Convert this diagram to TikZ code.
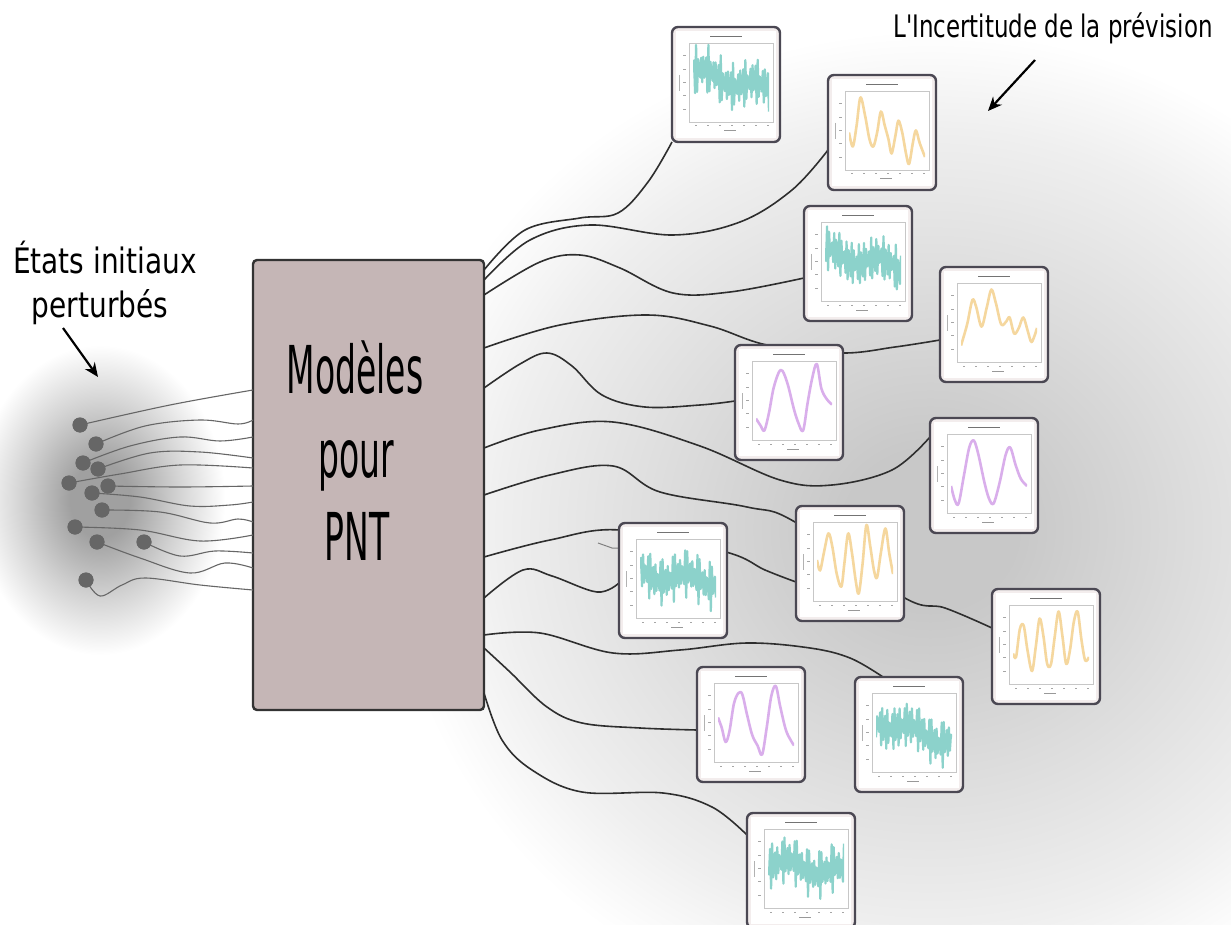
\documentclass[tikz,border=0pt]{standalone}
\usepackage{fontspec}
\setmainfont{DejaVu Sans}
\newfontfamily\labfont[FakeStretch=0.8]{DejaVu Sans}
\newfontfamily\labfontb[FakeStretch=0.74]{DejaVu Sans}
\newfontfamily\boxfont[FakeStretch=0.5]{DejaVu Sans}
\usetikzlibrary{calc,arrows.meta}
\definecolor{boxfill}{HTML}{C5B6B6}
\definecolor{frm}{HTML}{4B4853}
\definecolor{band}{HTML}{F3EDED}
\definecolor{serT}{HTML}{8CD2CB}
\definecolor{serY}{HTML}{F5D79E}
\definecolor{serP}{HTML}{D9AEEB}
\definecolor{haloA}{HTML}{C8C8C8}
\definecolor{haloB}{HTML}{DCDCDC}
\definecolor{haloC}{HTML}{EFEFEF}
\definecolor{dotA}{HTML}{A0A0A0}
\definecolor{dotB}{HTML}{D4D4D4}
\definecolor{dotfill}{HTML}{666666}
\pgfdeclareradialshading{bighalo}{\pgfpoint{0bp}{0bp}}{color(0bp)=(haloA); color(4bp)=(haloA); color(12bp)=(haloB); color(20bp)=(haloC); color(25bp)=(white); color(50bp)=(white)}
\pgfdeclareradialshading{dothalo}{\pgfpoint{0bp}{0bp}}{color(0bp)=(dotA); color(6bp)=(dotA); color(16bp)=(dotB); color(25bp)=(white); color(50bp)=(white)}

\newcommand{\serteal}[2]{\draw[serT, line width=1.1pt, line join=round] plot[domain=0:1, samples=75, variable=\t] (\t,{0.5+0.08*sin(\t*540+#1)+#2*(0.5-\t)+0.37*sin(\t*11100+3*#1)*(0.75+0.25*sin(\t*2300+#1))});}
\newcommand{\seryel}[1]{\draw[serY, line width=1.3pt, line join=round] plot[smooth, tension=0.55] coordinates {#1};}
\newcommand{\serpur}[1]{\draw[serP, line width=1.3pt, line join=round] plot[smooth, tension=0.55] coordinates {#1};}

\newcommand{\chart}[4]{%
 \node[chartbox] (#1) at ({#2+54},{#3+57.5}) {};
 \begin{scope}[shift={(#1.north west)}]
  \fill[white] (4,4) rectangle (104,111);
  \draw[black!55, line width=0.45pt] (38,9) -- (70,9);
  \draw[black!22, line width=0.3pt] (17,16) rectangle (101,95);
  \foreach \v in {0.12,0.31,0.5,0.69,0.88} \draw[black!35, line width=0.5pt] (11,{91-71*\v}) -- (14,{91-71*\v});
  \foreach \u in {0.05,0.2,0.35,0.5,0.65,0.8,0.95} \draw[black!35, line width=0.5pt] ({19+80*\u},99) -- ({21+80*\u},99);
  \draw[black!40, line width=0.5pt] (52,104) -- (64,104);
  \draw[black!30, line width=0.4pt] (7,48) -- (7,64);
  \begin{scope}[shift={(21,89)}, xscale=76, yscale=-70]
   \clip (0,-0.05) rectangle (1,1.05);
   #4
  \end{scope}
 \end{scope}}

\begin{document}
\begin{tikzpicture}[x=0.5pt,y=-0.5pt,
  chartbox/.style={draw=frm, line width=1.2pt, fill=band, rounded corners=3pt, minimum width=54pt, minimum height=57.5pt, inner sep=0pt, outer sep=0pt},
  dot/.style={circle, fill=dotfill, minimum size=7.5pt, inner sep=0pt},
  lwire/.style={draw=black!60, line width=0.55pt},
  rwire/.style={draw=black!82, line width=0.8pt},
  arr/.style={draw=black, line width=1.1pt, -{Stealth[length=7pt,width=6pt]}},
  lab/.style={font=\labfont\fontsize{17.5}{20}\selectfont, inner sep=0pt},
  boxtxt/.style={font=\boxfont\fontsize{33}{33}\selectfont, inner sep=0pt, anchor=base}
]
\useasboundingbox (0,0) rectangle (1231,925);
\clip (0,0) rectangle (1231,925);
\fill[white] (0,0) rectangle (1231,925);
\shade[shading=bighalo] (930,530) ellipse [x radius=540, y radius=500];
\shade[shading=dothalo] (100,500) ellipse [x radius=125, y radius=155];

% labels
\node[lab, anchor=base] (lt1) at (105,274) {États initiaux};
\node[lab, anchor=base] (lt2) at (100,317) {perturbés};
\node[anchor=base, inner sep=0pt, font=\labfontb\fontsize{15.5}{18}\selectfont] (rt) at (1053,38) {L'Incertitude de la prévision};
\coordinate (la0) at (63,328);
\coordinate (la1) at (98,377);
\coordinate (ra0) at (1035,60);
\coordinate (ra1) at (988,111);
\draw[arr] (la0) -- (la1);
\draw[arr] (ra0) -- (ra1);

% main box
\node[draw=black!80, line width=1.2pt, fill=boxfill, rounded corners=2pt, minimum width=115.5pt, minimum height=225pt, inner sep=0pt, outer sep=0pt] (pnt) at (368.5,485) {};
\node[boxtxt] (m1) at (355,393) {Modèles};
\node[boxtxt] (m2) at (356,477) {pour};
\node[boxtxt] (m3) at (357,560) {PNT};

% dots
\node[dot] (d1) at (80,425) {};
\node[dot] (d2) at (96,444) {};
\node[dot] (d3) at (83,463) {};
\node[dot] (d4) at (98,469) {};
\node[dot] (d5) at (69,483) {};
\node[dot] (d6) at (108,486) {};
\node[dot] (d7) at (92,493) {};
\node[dot] (d8) at (102,510) {};
\node[dot] (d9) at (75,527) {};
\node[dot] (d10) at (144,542) {};
\node[dot] (d11) at (97,542) {};
\node[dot] (d12) at (86,580) {};

% left wires
\draw[lwire] plot[smooth,tension=0.6] coordinates {(d1) (170,405) ($(pnt.north west)+(0,130)$)};
\draw[lwire] plot[smooth,tension=0.6] coordinates {(d2) (145,426) (200,420) (238,424) ($(pnt.north west)+(0,160)$)};
\draw[lwire] plot[smooth,tension=0.6] coordinates {(d3) (130,446) (180,437) (220,441) ($(pnt.north west)+(0,177)$)};
\draw[lwire] plot[smooth,tension=0.6] coordinates {(d4) (150,453) (200,452) ($(pnt.north west)+(0,198)$)};
\draw[lwire] plot[smooth,tension=0.6] coordinates {(d5) (120,474) (180,465) ($(pnt.north west)+(0,208)$)};
\draw[lwire] plot[smooth,tension=0.6] coordinates {(d6) (180,487) ($(pnt.north west)+(0,226)$)};
\draw[lwire] plot[smooth,tension=0.6] coordinates {(d7) (140,497) (190,506) (230,505) ($(pnt.north west)+(0,242)$)};
\draw[lwire] plot[smooth,tension=0.6] coordinates {(d8) (160,512) (210,523) (238,519) ($(pnt.north west)+(0,262)$)};
\draw[lwire] plot[smooth,tension=0.6] coordinates {(d9) (140,530) (200,541) ($(pnt.north west)+(0,275)$)};
\draw[lwire] plot[smooth,tension=0.6] coordinates {(d10) (180,556) (215,551) ($(pnt.north west)+(0,293)$)};
\draw[lwire] plot[smooth,tension=0.6] coordinates {(d11) (140,558) (190,573) (225,563) ($(pnt.north west)+(0,308)$)};
\draw[lwire] plot[smooth,tension=0.6] coordinates {(d12) (100,596) (122,585) (145,578) (200,585) ($(pnt.north west)+(0,330)$)};
\foreach \x/\y in {80/425,96/444,83/463,98/469,69/483,108/486,92/493,102/510,75/527,144/542,97/542,86/580}
  \fill[dotfill] (\x,\y) circle [radius=7.5];

% wire end points on the charts
\coordinate (e1) at (672,142);
\coordinate (e2) at (828,150);
\coordinate (e3) at (804,278);
\coordinate (e4) at (940,340);
\coordinate (e5) at (735,401);
\coordinate (e6) at (930,437);
\coordinate (e7) at (796,582);
\coordinate (e8) at (619,583);
\coordinate (e9) at (992,628);
\coordinate (e10) at (697,730);
\coordinate (e11) at (883,677);
\coordinate (e12) at (747,835);

% right wires
\draw[rwire] plot[smooth,tension=0.6] coordinates {($(pnt.north east)+(0,10)$) (525,230) (580,218) (618,213) (648,182) (e1)};
\draw[rwire] plot[smooth,tension=0.6] coordinates {($(pnt.north east)+(0,20)$) (530,240) (590,225) (673,235) (740,222) (792,190) (e2)};
\draw[rwire] plot[smooth,tension=0.6] coordinates {($(pnt.north east)+(0,35)$) (540,262) (580,255) (620,268) (673,293) (730,292) (e3)};
\draw[rwire] plot[smooth,tension=0.6] coordinates {($(pnt.north east)+(0,88)$) (560,325) (647,315) (710,326) (767,345) (841,353) (895,347) (e4)};
\draw[rwire] plot[smooth,tension=0.6] coordinates {($(pnt.north east)+(0,128)$) (520,364) (547,353) (572,366) (602,395) (645,407) (700,405) (e5)};
\draw[rwire] plot[smooth,tension=0.6] coordinates {($(pnt.north east)+(0,188)$) (540,430) (613,422) (700,446) (780,480) (832,485) (892,470) (e6)};
\draw[rwire] plot[smooth,tension=0.6] coordinates {($(pnt.north east)+(0,235)$) (550,475) (613,466) (660,492) (747,507) (795,522) (903,597) (945,608) (e9)};
\draw[rwire] plot[smooth,tension=0.6] coordinates {($(pnt.north east)+(0,297)$) (550,540) (620,530) (726,552) (765,570) (e7)};
\draw[rwire] plot[smooth,tension=0.6] coordinates {($(pnt.north east)+(0,338)$) (523,570) (552,576) (597,592) (e8)};
\draw[rwire] plot[smooth,tension=0.6] coordinates {($(pnt.north east)+(0,375)$) (540,633) (613,653) (680,650) (747,643) (810,648) (850,658) (e11)};
\draw[rwire] plot[smooth,tension=0.6] coordinates {($(pnt.north east)+(0,388)$) (510,672) (547,707) (582,723) (640,728) (e10)};
\draw[rwire] plot[smooth,tension=0.6] coordinates {($(pnt.north east)+(0,433)$) (502,740) (532,770) (582,792) (663,793) (712,807) (e12)};
\coordinate (s0) at (598,543);
\coordinate (s1) at (627,548);
\draw[draw=black!50, line width=0.5pt] (s0) -- (612,548) -- (s1);

% charts
\chart{c1}{672}{27}{\serteal{0}{0.25}}
\chart{c2}{828}{75}{\seryel{(0,0.45)(0.05,0.25)(0.1,0.55)(0.15,0.95)(0.21,0.7)(0.27,0.35)(0.32,0.25)(0.37,0.45)(0.42,0.75)(0.47,0.55)(0.52,0.35)(0.56,0.15)(0.61,0.4)(0.65,0.62)(0.7,0.45)(0.75,0.15)(0.79,0.0)(0.84,0.3)(0.88,0.48)(0.93,0.3)(1,0.1)}}
\chart{c3}{804}{206}{\serteal{60}{0.2}}
\chart{c4}{940}{267}{\seryel{(0,0.15)(0.08,0.45)(0.15,0.8)(0.2,0.7)(0.27,0.42)(0.34,0.7)(0.4,0.95)(0.46,0.75)(0.53,0.45)(0.6,0.5)(0.64,0.55)(0.7,0.32)(0.76,0.4)(0.82,0.55)(0.88,0.35)(0.93,0.2)(1,0.4)}}
\chart{c5}{735}{345}{\serpur{(0,0.22)(0.06,0.12)(0.11,0.05)(0.17,0.3)(0.23,0.65)(0.3,0.88)(0.35,0.9)(0.42,0.7)(0.5,0.35)(0.56,0.15)(0.62,0.05)(0.68,0.45)(0.74,0.8)(0.8,1.0)(0.86,0.65)(0.93,0.5)(1,0.42)}}
\chart{c6}{930}{418}{\serpur{(0,0.3)(0.05,0.1)(0.1,0.05)(0.17,0.45)(0.24,0.85)(0.3,0.95)(0.36,0.75)(0.44,0.35)(0.5,0.12)(0.56,0.05)(0.64,0.35)(0.72,0.75)(0.78,0.85)(0.85,0.6)(0.92,0.4)(1,0.3)}}
\chart{c7}{796}{506}{\seryel{(0,0.5)(0.04,0.35)(0.09,0.6)(0.15,0.88)(0.2,0.7)(0.26,0.3)(0.32,0.12)(0.36,0.45)(0.41,0.88)(0.46,0.6)(0.51,0.2)(0.55,0.02)(0.6,0.45)(0.65,1.0)(0.7,0.7)(0.75,0.35)(0.79,0.25)(0.84,0.6)(0.9,0.95)(0.95,0.6)(1,0.3)}}
\chart{c8}{619}{523}{\serteal{120}{0.1}}
\chart{c9}{992}{589}{\seryel{(0,0.35)(0.04,0.3)(0.09,0.7)(0.14,0.75)(0.19,0.4)(0.25,0.1)(0.3,0.45)(0.35,0.85)(0.4,0.6)(0.45,0.2)(0.5,0.2)(0.55,0.6)(0.6,0.95)(0.65,0.6)(0.7,0.2)(0.75,0.4)(0.8,0.8)(0.85,0.95)(0.9,0.55)(0.95,0.25)(1,0.3)}}
\chart{c10}{697}{667}{\serpur{(0,0.55)(0.05,0.4)(0.1,0.2)(0.15,0.35)(0.21,0.75)(0.27,0.9)(0.32,0.88)(0.38,0.6)(0.45,0.3)(0.52,0.15)(0.58,0.02)(0.64,0.4)(0.7,0.85)(0.76,1.0)(0.82,0.7)(0.9,0.35)(1,0.15)}}
\chart{c11}{855}{677}{\serteal{200}{0.3}}
\chart{c12}{747}{813}{\serteal{300}{0.15}}
\end{tikzpicture}
\end{document}
